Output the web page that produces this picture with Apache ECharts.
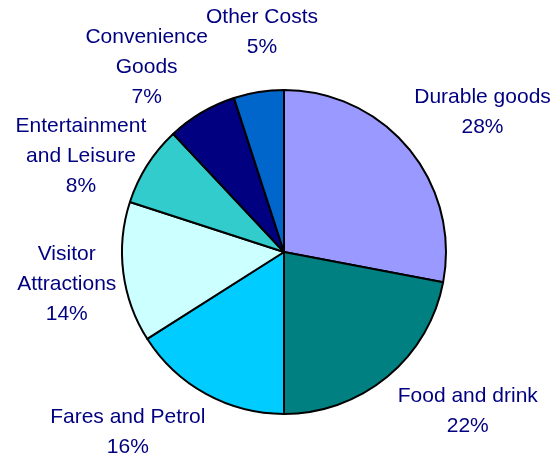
<!DOCTYPE html>
<html>
<head>
    <meta charset="utf-8">
    <title>Spending breakdown</title>
    <script src="https://cdn.jsdelivr.net/npm/echarts@6/dist/echarts.min.js"></script>
    <style>
        * { margin: 0; padding: 0; }
        body { background: #fff; }
    </style>
</head>
<body>
    <div id="main" style="width: 555px; height: 461px;"></div>
    <script type="text/javascript">
        // slices, clockwise from 12 o'clock
        var categories = ['Durable goods', 'Food and drink', 'Fares and Petrol', 'Visitor\nAttractions',
            'Entertainment\nand Leisure', 'Convenience\nGoods', 'Other Costs'];
        var shares = [28, 22, 16, 14, 8, 7, 5];
        var colors = ['#9999FF', '#008080', '#00CCFF', '#CCFFFF', '#33CCCC', '#000080', '#0066CC'];

        var cx = 284, cy = 252, r = 162;
        var total = shares.reduce(function (a, b) { return a + b; }, 0);

        // mid angle of each slice (radians, measured clockwise from top)
        var midAngles = [];
        var acc = 0;
        shares.forEach(function (v) {
            midAngles.push((acc + v / 2) / total * Math.PI * 2);
            acc += v;
        });

        // hand nudges (px) for labels that were shifted apart to avoid overlap
        var labelNudge = { 0: [0, -2], 1: [6, -1], 2: [0, 2], 4: [5, 40], 5: [10, 6], 6: [22, -23] };

        function clamp1(t) { return Math.max(-1, Math.min(1, t)); }

        var myChart = echarts.init(document.getElementById('main'));
        var option = {
            backgroundColor: '#fff',
            animation: false,
            series: [{
                type: 'pie',
                center: [cx, cy],
                radius: r,
                startAngle: 90,
                clockwise: true,
                data: categories.map(function (name, i) {
                    return { name: name, value: shares[i], itemStyle: { color: colors[i] } };
                }),
                itemStyle: { borderColor: '#000', borderWidth: 2 },
                label: {
                    show: true,
                    formatter: '{b}\n{c}%',
                    color: '#000080',
                    fontFamily: 'Liberation Sans, Arial, sans-serif',
                    fontSize: 21,
                    lineHeight: 30,
                    overflow: 'none'
                },
                labelLine: { show: false },
                // excel-like "outside end": box corner sits just past the rim
                labelLayout: function (params) {
                    var i = params.dataIndex;
                    var a = midAngles[i];
                    var s = Math.sin(a), c = Math.cos(a);
                    var w = params.labelRect.width / 2, h = params.labelRect.height / 2;
                    var ax = cx + (r + 7) * s, ay = cy - (r + 7) * c;
                    var n = labelNudge[i] || [0, 0];
                    return {
                        x: ax + w * clamp1(2 * s) + n[0],
                        y: ay - h * clamp1(2 * c) + n[1],
                        width: 300,
                        align: 'center',
                        verticalAlign: 'middle'
                    };
                }
            }]
        };
        myChart.setOption(option);
    </script>
</body>
</html>
